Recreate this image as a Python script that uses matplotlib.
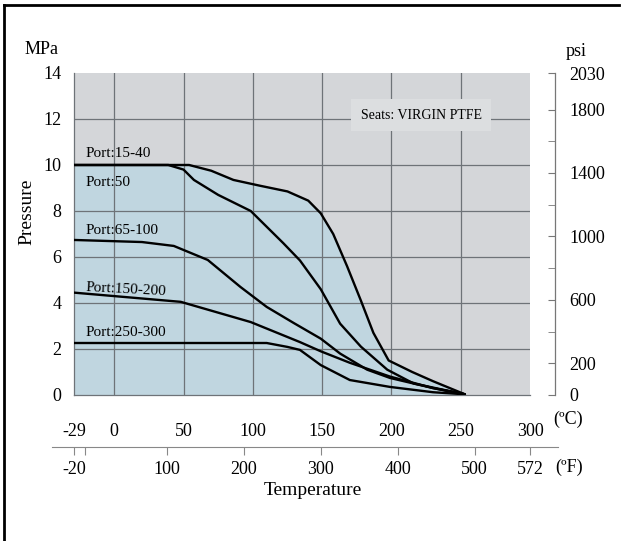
import matplotlib
matplotlib.use("Agg")
import matplotlib.pyplot as plt
from matplotlib.lines import Line2D

plt.rcParams["font.family"] = ["Liberation Serif", "DejaVu Serif"]

# temperature (degC) / pressure (MPa)
temp_15_40 = [-29, 54, 70, 86, 105, 125, 140, 149, 158, 168, 178, 187, 198, 215, 230, 253]
pres_15_40 = [10, 10, 9.75, 9.35, 9.1, 8.85, 8.45, 7.9, 7.0, 5.6, 4.1, 2.7, 1.5, 1.0, 0.6, 0.03]

temp_50 = [-29, 39, 50, 57.5, 75, 98.5, 122, 134, 149, 163, 178, 197, 216, 253]
pres_50 = [10, 10, 9.8, 9.35, 8.7, 8.0, 6.6, 5.85, 4.6, 3.1, 2.1, 1.1, 0.5, 0.03]

temp_65_100 = [-29, 20, 43, 67.5, 91, 110, 129.5, 149, 163, 182.5, 199, 230, 253]
pres_65_100 = [6.74, 6.65, 6.48, 5.87, 4.7, 3.83, 3.13, 2.45, 1.8, 1.1, 0.74, 0.3, 0.03]

temp_150_200 = [-29, 48, 98.5, 134, 149, 170, 199, 230, 253]
pres_150_200 = [4.45, 4.05, 3.17, 2.3, 1.9, 1.4, 0.8, 0.3, 0.03]

temp_250_300 = [-29, 110, 125, 134, 149, 170, 199, 230, 253]
pres_250_300 = [2.26, 2.26, 2.09, 1.96, 1.3, 0.65, 0.35, 0.12, 0.03]

port_labels = ["Port:15-40", "Port:50", "Port:65-100", "Port:150-200", "Port:250-300"]
port_label_y = [10.48, 9.26, 7.13, 4.57, 2.7]

c_ticks = [-29, 0, 50, 100, 150, 200, 250, 300]
mpa_ticks = [0, 2, 4, 6, 8, 10, 12, 14]
psi_major = [0, 200, 600, 1000, 1400, 1800, 2030]
psi_minor = [400, 800, 1200, 1600]
f_ticks = [-20, -6, 100, 200, 300, 400, 500, 572]
f_labels = ["-20", "", "100", "200", "300", "400", "500", "572"]

BG = "#d4d6d9"
FILL = "#c0d6e0"
GRID = "#6e7378"

fig = plt.figure(figsize=(6.21, 5.41), dpi=100)
ax = fig.add_axes([0.1192, 0.2699, 0.7343, 0.5952])
ax.set_facecolor(BG)
ax.set_xlim(-29, 300)
ax.set_ylim(0, 14)

ax.fill_between(temp_15_40, pres_15_40, 0, color=FILL, lw=0, zorder=1)
for x in c_ticks[1:-1]:
    ax.axvline(x, color=GRID, lw=0.9, zorder=2)
for y in mpa_ticks[1:-1]:
    ax.axhline(y, color=GRID, lw=0.9, zorder=2)

for t, p in [(temp_15_40, pres_15_40), (temp_50, pres_50), (temp_65_100, pres_65_100),
             (temp_150_200, pres_150_200), (temp_250_300, pres_250_300)]:
    ax.plot(t, p, color="black", lw=1.7, zorder=4, solid_capstyle="round")

for lab, y in zip(port_labels, port_label_y):
    rot = -3 if lab == "Port:150-200" else 0
    ax.text(-21, y, lab, fontsize=11, va="center", ha="left", rotation=rot, zorder=5)

ax.text(221.5, 12.17, "Seats: VIRGIN PTFE", fontsize=10, ha="center", va="center", zorder=5,
        bbox=dict(boxstyle="square,pad=0.7", fc="#dcdee0", ec="none"))

for s in ax.spines.values():
    s.set_color(GRID)
    s.set_linewidth(0.9)
ax.spines["top"].set_visible(False)
ax.spines["right"].set_visible(False)

ax.set_xticks(c_ticks)
ax.set_xticklabels([str(v) for v in c_ticks])
ax.set_yticks(mpa_ticks)
ax.tick_params(axis="x", length=0, pad=20, labelsize=13)
ax.tick_params(axis="y", length=0, pad=9, labelsize=13)

# psi axis on the right
axp = ax.twinx()
axp.set_ylim(0, 14 * 145.038)
axp.set_yticks(psi_major)
axp.set_yticks(psi_minor, minor=True)
axp.spines["right"].set_position(("outward", 18))
for k in ["top", "left", "bottom"]:
    axp.spines[k].set_visible(False)
axp.spines["right"].set_color("#777777")
axp.spines["right"].set_linewidth(0.9)
axp.tick_params(axis="y", which="both", direction="in", length=5, color="#777777",
                pad=10, labelsize=13)

# fahrenheit scale
axf = fig.add_axes([0.0837, 0.1738, 0.8148, 0.001])
axf.set_xlim(-44.9, 320.2)
axf.set_facecolor("none")
axf.set_yticks([])
for k in ["top", "left", "right"]:
    axf.spines[k].set_visible(False)
axf.spines["bottom"].set_color("#888888")
axf.set_xticks([(f - 32) * 5 / 9 for f in f_ticks])
axf.set_xticklabels(f_labels)
axf.tick_params(axis="x", direction="out", length=6, color="#888888", pad=4, labelsize=13)

fig.text(0.914, 0.224, "(ºC)", fontsize=13, ha="center", va="center")
fig.text(0.916, 0.137, "(ºF)", fontsize=13, ha="center", va="center")
fig.text(0.504, 0.093, "Temperature", fontsize=14, ha="center", va="center")
fig.text(0.044, 0.608, "Pressure", fontsize=14, ha="center", va="center", rotation=90)
fig.text(0.067, 0.908, "MPa", fontsize=13, ha="center", va="center")
fig.text(0.927, 0.904, "psi", fontsize=13, ha="center", va="center")

# outer frame (left and top)
fig.add_artist(Line2D([0.006, 0.006], [0.0, 0.991], color="black", lw=2))
fig.add_artist(Line2D([0.006, 0.996], [0.991, 0.991], color="black", lw=2))

fig.savefig("out.png", dpi=100)
